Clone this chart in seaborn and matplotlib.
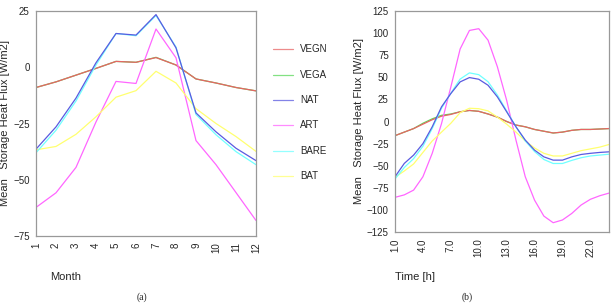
import numpy as np
import pandas as pd
import seaborn as sns
import matplotlib
matplotlib.use("Agg")
import matplotlib.pyplot as plt

sns.set_theme(style="white")
plt.rcParams['font.family'] = ['Liberation Sans', 'DejaVu Sans']

series = ["VEGN", "VEGA", "NAT", "ART", "BARE", "BAT"]
colors = ["#e86464", "#5ad85a", "#5a5ae0", "#ff66ff", "#70ffff", "#ffff70"]
draw_order = ["VEGA", "VEGN", "ART", "BAT", "BARE", "NAT"]

months = list(range(1, 13))
m_vegn = [-9, -6.5, -3.5, -0.5, 2.6, 2.2, 4.3, 1.0, -5.2, -7.0, -9.0, -10.5]
m_vega = [-9, -6.5, -3.5, -0.5, 2.6, 2.2, 4.4, 1.0, -5.2, -7.0, -9.0, -10.5]
m_nat = [-36.4, -26.5, -13.7, 2.0, 15.0, 14.3, 23.4, 8.6, -20.3, -28.7, -36.0, -41.5]
m_art = [-62.3, -55.8, -44.5, -24.3, -6.3, -7.2, 17.0, 4.2, -32.6, -43.3, -55.7, -68.1]
m_bare = [-38.0, -28.0, -15.0, 1.0, 15.0, 14.0, 23.0, 9.0, -21.0, -30.0, -37.5, -43.3]
m_bat = [-36.7, -35.2, -29.8, -22.0, -13.3, -10.4, -1.8, -7.0, -18.4, -25.0, -30.8, -37.4]

hours = list(range(1, 25))
h_vegn = [-16, -12, -8, -3, 2, 6, 8, 11, 12.5, 11.5, 8.5, 5, 0, -4, -6, -9, -11, -13, -12, -10, -9, -9, -8.5, -8]
h_vega = [-16, -12, -8, -2, 3, 7, 8.5, 11, 12.5, 11.5, 8.5, 5, 0, -4, -6, -9, -11, -13, -12, -10, -9, -9, -8.5, -8]
h_nat = [-62.5, -47.4, -38, -25, -6, 16.6, 31.6, 44.8, 49.7, 47.8, 41, 27.9, 11, -6, -21, -32.4, -40, -43.7, -43.7, -40, -37.3, -36, -35, -34.3]
h_art = [-85.8, -83, -77.6, -62.5, -36, -2.3, 39, 82, 103, 105, 92, 62, 24, -21, -62.5, -89, -107, -114.5, -111.4, -104, -94.5, -88, -84, -81]
h_bare = [-65, -52, -42, -28, -8, 15, 32, 48, 55, 53, 45, 30, 12, -6, -22, -34, -43, -47.5, -47.5, -44, -41, -39, -38, -37]
h_bat = [-63, -56, -48, -35, -22, -12, -2, 10, 15, 14.5, 12, 5, -3, -12, -22, -30, -36, -39, -39, -36, -33, -31, -29, -26]

month_ticks = list(range(1, 13))
hour_ticks = [1, 4, 7, 10, 13, 16, 19, 22]
hour_ticklabels = ["1.0", "4.0", "7.0", "10.0", "13.0", "16.0", "19.0", "22.0"]
left_yticks = [25, 0, -25, -50, -75]
right_yticks = list(range(-125, 126, 25))

def long_df(x, cols, xname):
    frames = []
    for name, vals in zip(series, cols):
        frames.append(pd.DataFrame({xname: x, "val": vals, "series": name}))
    return pd.concat(frames, ignore_index=True)

df_m = long_df(months, [m_vegn, m_vega, m_nat, m_art, m_bare, m_bat], "x")
df_h = long_df(hours, [h_vegn, h_vega, h_nat, h_art, h_bare, h_bat], "x")
pal = dict(zip(series, colors))

fig = plt.figure(figsize=(6.13, 3.07), dpi=100)
W, H = 613, 307
ax1 = fig.add_axes([36 / W, 1 - 236 / H, 220 / W, 225 / H])
ax2 = fig.add_axes([395 / W, 1 - 232 / H, 214 / W, 221 / H])

sns.lineplot(data=df_m, x="x", y="val", hue="series", hue_order=draw_order,
             palette=pal, ax=ax1, linewidth=0.9, legend=False, sort=False)
sns.lineplot(data=df_h, x="x", y="val", hue="series", hue_order=draw_order,
             palette=pal, ax=ax2, linewidth=0.9, legend=False, sort=False)

for ax in (ax1, ax2):
    for s in ax.spines.values():
        s.set_color("#999999")
        s.set_linewidth(0.9)
    ax.tick_params(axis="both", which="both", direction="out", length=2.5,
                   width=0.6, color="#999999", labelsize=7, pad=2)
    ax.set_xlabel("")
    ax.set_ylabel("Mean   Storage Heat Flux [W/m2]", fontsize=8, labelpad=2)

ax1.set_xlim(1, 12)
ax1.set_ylim(-75, 25)
ax1.set_xticks(month_ticks)
ax1.set_xticklabels([str(m) for m in month_ticks], rotation=90)
ax1.set_yticks(left_yticks)

ax2.set_xlim(1, 24)
ax2.set_ylim(-125, 125)
ax2.set_xticks(hour_ticks)
ax2.set_xticklabels(hour_ticklabels, rotation=90)
ax2.set_yticks(right_yticks)

fig.text(50 / W, 1 - 277 / H, "Month", fontsize=8, va="center", ha="left")
fig.text(395 / W, 1 - 277 / H, "Time [h]", fontsize=8, va="center", ha="left")
fig.text(142 / W, 1 - 297 / H, "(a)", fontsize=7, va="center", ha="center", family="Liberation Serif")
fig.text(467 / W, 1 - 297 / H, "(b)", fontsize=7, va="center", ha="center", family="Liberation Serif")

# legend
ys = [49, 75, 100, 125, 151, 176]
for name, c, yy in zip(series, colors, ys):
    fig.add_artist(plt.Line2D([273 / W, 293 / W], [1 - yy / H, 1 - yy / H],
                              color=c, linewidth=0.9, alpha=0.75))
    fig.text(300 / W, 1 - yy / H, name, fontsize=7, va="center", ha="left")

fig.savefig("out.png", dpi=100)
